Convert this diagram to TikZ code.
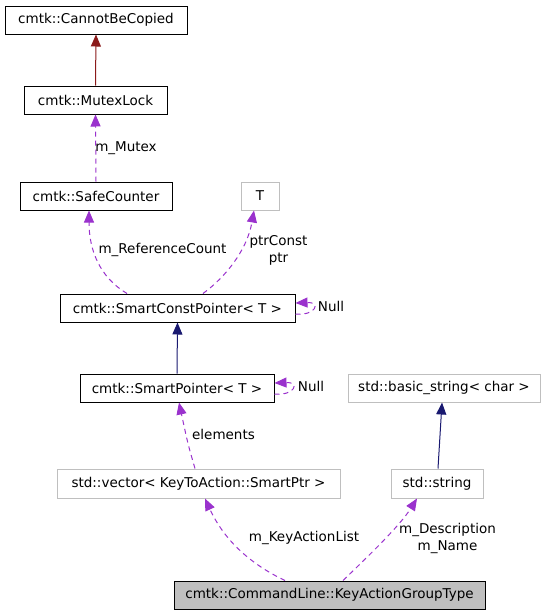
\documentclass[tikz,border=0pt]{standalone}
\usepackage{fontspec}
\setmainfont{DejaVu Sans}
\usetikzlibrary{arrows.meta}
\definecolor{edgepurple}{HTML}{9A32CD}
\definecolor{edgenavy}{HTML}{191970}
\definecolor{edgered}{HTML}{8B1A1A}
\definecolor{boxgray}{HTML}{BFBFBF}
\tikzset{
  cls/.style={draw=black, line width=1pt, rectangle, inner sep=0pt, minimum height=28pt,
    font=\fontsize{13.5}{16}\selectfont, text=black},
  ext/.style={cls, draw=boxgray},
  focus/.style={cls, fill=boxgray},
  lbl/.style={font=\fontsize{13.5}{17}\selectfont, align=center, inner sep=0pt, text=black},
  usage/.style={draw=edgepurple, line width=1pt, dash pattern=on 5pt off 4pt,
    -{Triangle[length=12pt,width=10pt,color=edgepurple,fill=edgepurple]}},
  inh/.style={draw=edgenavy, line width=1pt,
    -{Triangle[length=12pt,width=10pt,color=edgenavy,fill=edgenavy]}},
  privinh/.style={draw=edgered, line width=1pt,
    -{Triangle[length=12pt,width=10pt,color=edgered,fill=edgered]}},
}
\begin{document}
\begin{tikzpicture}[x=1pt,y=-1pt]
\useasboundingbox (0,0) rectangle (545,616);
% nodes
\node[cls, minimum width=182pt] (cbc) at (96,20) {cmtk::CannotBeCopied};
\node[cls, minimum width=143pt] (mtx) at (95.5,100) {cmtk::MutexLock};
\node[cls, minimum width=152pt] (sfc) at (96,196) {cmtk::SafeCounter};
\node[ext, minimum width=38pt] (t) at (260,196) {T};
\node[cls, minimum width=235pt] (scp) at (177.5,308) {cmtk::SmartConstPointer< T >};
\node[cls, minimum width=194pt] (sp) at (177,388) {cmtk::SmartPointer< T >};
\node[ext, minimum width=192pt] (bs) at (444,388) {std::basic\_string< char >};
\node[ext, minimum width=283pt, minimum height=29pt] (vec) at (198.5,483.5) {std::vector< KeyToAction::SmartPtr >};
\node[ext, minimum width=92pt, minimum height=29pt] (str) at (437,483.5) {std::string};
\node[focus, minimum width=311pt] (kag) at (329.5,595) {cmtk::CommandLine::KeyActionGroupType};
% edges
\draw[privinh] (mtx.north) -- (cbc.south);
\draw[usage] (sfc.north) -- (mtx.south) node[lbl, pos=0.5, right=-1pt] {m\_Mutex};
\draw[usage] ([xshift=-50.5pt]scp.north) .. controls +(-27,-16) and +(0,40) .. ([xshift=-7pt]sfc.south);
\node[lbl] (lrc) at (162.5,250) {m\_ReferenceCount};
\draw[usage] ([xshift=25.5pt]scp.north) .. controls +(22,-16) and +(-7,40) .. ([xshift=-6pt]t.south);
\node[lbl] (lpc) at (278.5,250.5) {ptrConst\\ptr};
\draw[usage] ([yshift=-6pt]scp.east) .. controls +(20,2) and +(26,-1) .. ([yshift=5pt]scp.east);
\node[lbl] (lnull1) at (331,306) {Null};
\draw[inh] (sp.north) -- (scp.south);
\draw[usage] ([yshift=-6pt]sp.east) .. controls +(20,2) and +(26,-1) .. ([yshift=5pt]sp.east);
\node[lbl] (lnull2) at (311,386) {Null};
\draw[usage] ([xshift=-3.5pt]vec.north) .. controls +(-7,-24) .. ([xshift=2pt]sp.south);
\node[lbl] (lel) at (223.5,434) {elements};
\draw[inh] ([xshift=1pt]str.north) -- ([xshift=-2pt]bs.south);
\draw[usage] ([xshift=-44.5pt]kag.north) .. controls +(-40,-19) and +(17,37) .. ([xshift=6.5pt]vec.south);
\node[lbl] (lkal) at (304,538) {m\_KeyActionList};
\draw[usage] ([xshift=13.5pt]kag.north) .. controls +(27,-26) and +(-17,27) .. ([xshift=-20pt]str.south);
\node[lbl] (ldesc) at (447.5,538.5) {m\_Description\\m\_Name};
\end{tikzpicture}
\end{document}
